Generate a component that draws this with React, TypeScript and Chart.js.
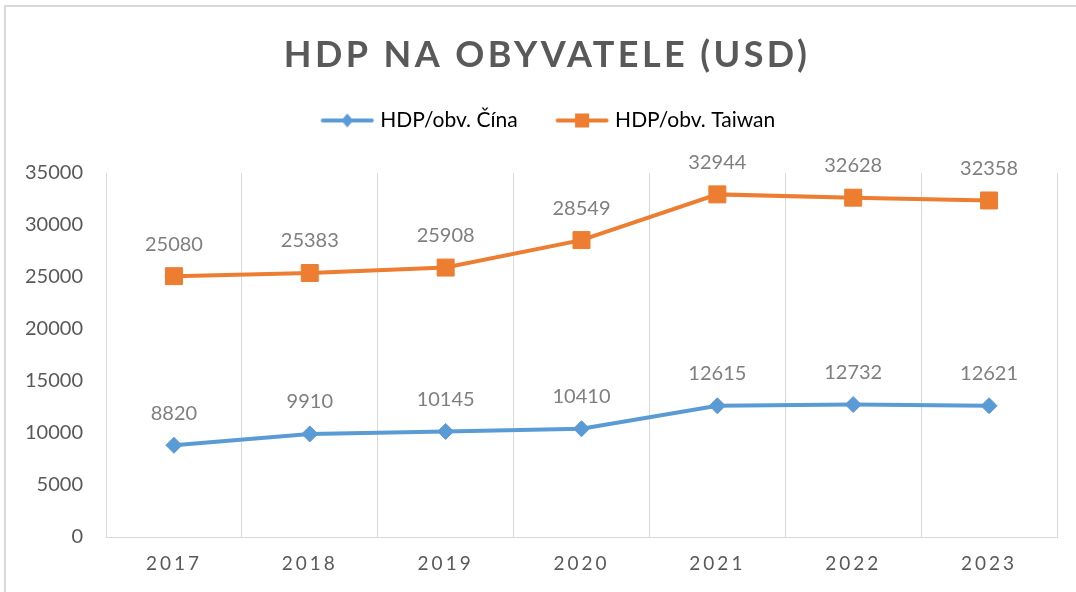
import React, { useEffect, useRef } from "react";
import { Chart, registerables } from "chart.js";

Chart.register(...registerables);

const chartTitle = "HDP NA OBYVATELE (USD)";
const years = ["2017", "2018", "2019", "2020", "2021", "2022", "2023"];
const chinaName = "HDP/obv. Čína";
const taiwanName = "HDP/obv. Taiwan";
const chinaValues = [8820, 9910, 10145, 10410, 12615, 12732, 12621];
const taiwanValues = [25080, 25383, 25908, 28549, 32944, 32628, 32358];
const yMin = 0;
const yMax = 35000;
const yStep = 5000;

const BLUE = "#5B9BD5";
const ORANGE = "#ED7D31";
const TEXT = "#595959";
const LABEL = "#7F7F7F";
const GRID = "#D9D9D9";
const FONT = "Lato, 'Open Sans', sans-serif";

// legend icon geometry
const LEG_BOX = 55;
const LEG_IMG = 66;
const LEG_PAD = 32;
const LEG_EXTRA = 32;
const LEG_SHIFT = 6.5;

function makeLegendIcon(color: string, kind: "rect" | "diamond") {
  const c = document.createElement("canvas");
  c.width = LEG_IMG;
  c.height = 18;
  const ctx = c.getContext("2d")!;
  const x0 = LEG_IMG / 2 - LEG_BOX / 2 + 6;
  const x1 = x0 + 53;
  const cy = 9;
  ctx.strokeStyle = color;
  ctx.lineWidth = 4;
  ctx.lineCap = "round";
  ctx.beginPath();
  ctx.moveTo(x0 + 2, cy);
  ctx.lineTo(x1 - 2, cy);
  ctx.stroke();
  ctx.fillStyle = color;
  const mx = (x0 + x1) / 2;
  if (kind === "rect") {
    ctx.fillRect(mx - 7, cy - 7, 14, 14);
  } else {
    ctx.beginPath();
    ctx.moveTo(mx, cy - 7);
    ctx.lineTo(mx + 6, cy);
    ctx.lineTo(mx, cy + 7);
    ctx.lineTo(mx - 6, cy);
    ctx.closePath();
    ctx.fill();
  }
  return c;
}

const decorPlugin = {
  id: "decor",
  beforeLayout(chart: any) {
    const lg = chart.legend;
    if (lg && !lg.__patched) {
      const orig = lg.fit.bind(lg);
      lg.fit = function () {
        orig();
        lg.height += LEG_EXTRA;
      };
      lg.__patched = true;
    }
  },
  afterLayout(chart: any) {
    const lg = chart.legend;
    if (lg) {
      lg.left += LEG_SHIFT;
      lg.right += LEG_SHIFT;
    }
  },
  beforeDraw(chart: any) {
    const ctx = chart.ctx;
    (ctx as any).letterSpacing = "0px";
    ctx.save();
    ctx.fillStyle = "#ffffff";
    ctx.fillRect(0, 0, chart.width, chart.height);
    ctx.strokeStyle = GRID;
    ctx.lineWidth = 2;
    ctx.beginPath();
    ctx.moveTo(5, chart.height + 10);
    ctx.lineTo(5, 6);
    ctx.lineTo(chart.width + 10, 6);
    ctx.stroke();
    ctx.restore();
  },
  afterDatasetsDraw(chart: any) {
    const ctx = chart.ctx;
    ctx.save();
    (ctx as any).letterSpacing = "0px";
    ctx.font = `20px ${FONT}`;
    ctx.fillStyle = LABEL;
    ctx.textAlign = "center";
    ctx.textBaseline = "middle";
    chart.data.datasets.forEach((ds: any, i: number) => {
      const meta = chart.getDatasetMeta(i);
      meta.data.forEach((pt: any, j: number) => {
        ctx.fillText(String(ds.data[j]), pt.x, pt.y - 32);
      });
    });
    ctx.restore();
    // x tick labels (z > 0) are drawn after this with letter spacing
    (ctx as any).letterSpacing = "3px";
  },
  afterDraw(chart: any) {
    const ctx = chart.ctx;
    (ctx as any).letterSpacing = "0px";
    ctx.save();
    (ctx as any).letterSpacing = "3.4px";
    ctx.font = `bold 36px ${FONT}`;
    ctx.fillStyle = TEXT;
    ctx.textAlign = "center";
    ctx.textBaseline = "middle";
    ctx.fillText(chartTitle, 547, 55);
    ctx.restore();
    (ctx as any).letterSpacing = "0px";
  },
};

export default function App() {
  const ref = useRef<HTMLCanvasElement | null>(null);

  useEffect(() => {
    if (!ref.current) return;
    const icons = [makeLegendIcon(BLUE, "diamond"), makeLegendIcon(ORANGE, "rect")];
    const chart = new Chart(ref.current, {
      type: "line",
      data: {
        labels: years,
        datasets: [
          {
            label: chinaName,
            data: chinaValues,
            borderColor: BLUE,
            backgroundColor: BLUE,
            borderWidth: 4,
            pointStyle: "rectRot",
            pointRadius: 8,
            pointBorderWidth: 1,
            pointBackgroundColor: BLUE,
            pointBorderColor: BLUE,
            tension: 0,
          },
          {
            label: taiwanName,
            data: taiwanValues,
            borderColor: ORANGE,
            backgroundColor: ORANGE,
            borderWidth: 4,
            pointStyle: "rect",
            pointRadius: 12,
            pointBorderWidth: 1,
            pointBackgroundColor: ORANGE,
            pointBorderColor: ORANGE,
            tension: 0,
          },
        ],
      },
      options: {
        responsive: false,
        animation: false,
        devicePixelRatio: 1,
        layout: { padding: { top: 78, left: 20, right: 19, bottom: 0 } },
        plugins: {
          title: { display: false },
          tooltip: { enabled: false },
          legend: {
            display: true,
            position: "top",
            labels: {
              usePointStyle: true,
              pointStyleWidth: LEG_BOX,
              padding: LEG_PAD,
              color: TEXT,
              font: { family: FONT, size: 21 },
              generateLabels: (ch: any) =>
                ch.data.datasets.map((ds: any, i: number) => ({
                  text: ds.label,
                  fillStyle: ds.borderColor,
                  strokeStyle: ds.borderColor,
                  lineWidth: 0,
                  pointStyle: icons[i],
                  hidden: false,
                  datasetIndex: i,
                })),
            },
          },
        },
        scales: {
          x: {
            offset: true,
            grid: { offset: true, color: GRID, lineWidth: 1, drawTicks: false, z: 0 },
            border: { display: true, color: GRID, width: 1 },
            ticks: {
              color: TEXT,
              font: { family: FONT, size: 19 },
              padding: 15,
              z: 1,
              maxRotation: 0,
            },
            afterFit: (s: any) => {
              s.height = 55;
            },
          },
          y: {
            min: yMin,
            max: yMax,
            grid: { display: false, drawTicks: false },
            border: { display: false },
            ticks: {
              stepSize: yStep,
              color: TEXT,
              font: { family: FONT, size: 20 },
              padding: 23,
              callback: (v: any) => String(v),
            },
            afterFit: (s: any) => {
              s.width = 86;
            },
          },
        },
      },
      plugins: [decorPlugin],
    } as any);
    return () => chart.destroy();
  }, []);

  return (
    <div
      style={{
        position: "fixed",
        left: 0,
        top: 0,
        width: 1076,
        height: 592,
        overflow: "hidden",
        background: "#fff",
      }}
    >
      <canvas ref={ref} width={1076} height={592} style={{ width: 1076, height: 592, display: "block" }} />
    </div>
  );
}
